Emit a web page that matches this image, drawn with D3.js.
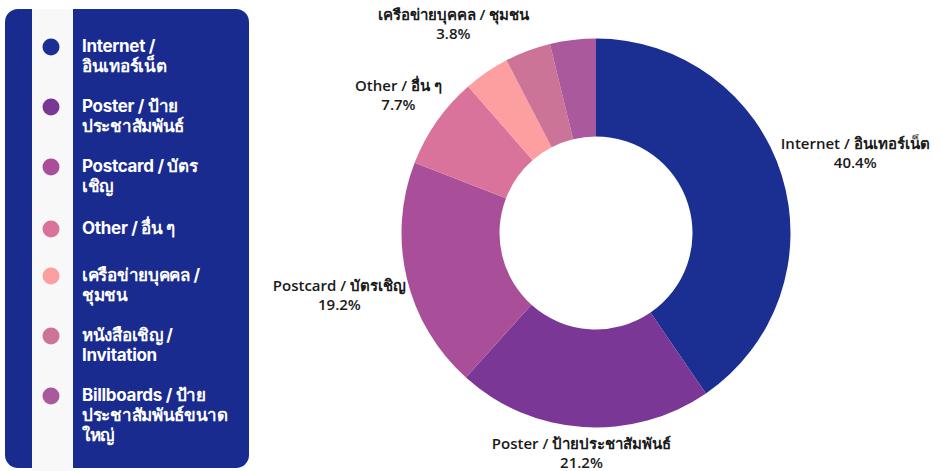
<!DOCTYPE html>
<html>
<head>
<meta charset="utf-8">
<script src="https://cdn.jsdelivr.net/npm/d3@7/dist/d3.min.js"></script>
<style>
  html, body { margin: 0; padding: 0; background: #ffffff; }
  svg { display: block; }
</style>
</head>
<body>
<svg id="chart" width="941" height="471"></svg>
<script>
// Channel shares (percent), drawn clockwise from 12 o'clock
const categories = ["Internet", "Poster", "Postcard", "Other", "Network", "Invitation", "Billboards"];
const shares = [40.4, 21.2, 19.2, 7.7, 3.8, 3.8, 3.8];
const sliceColors = ["#1b2e91", "#7a3796", "#a94f9a", "#d9739b", "#fd9ea1", "#cc7497", "#aa599d"];

// Outside labels on the ring (null = not labelled)
const ringLabels = [
  "Internet / อินเทอร์เน็ต",
  "Poster / ป้ายประชาสัมพันธ์",
  "Postcard / บัตรเชิญ",
  "Other / อื่น ๆ",
  "เครือข่ายบุคคล / ชุมชน",
  null,
  null
];

// Legend entries, one array of wrapped lines per category
const legendLines = [
  ["Internet /", "อินเทอร์เน็ต"],
  ["Poster / ป้าย", "ประชาสัมพันธ์"],
  ["Postcard / บัตร", "เชิญ"],
  ["Other / อื่น ๆ"],
  ["เครือข่ายบุคคล /", "ชุมชน"],
  ["หนังสือเชิญ /", "Invitation"],
  ["Billboards / ป้าย", "ประชาสัมพันธ์ขนาด", "ใหญ่"]
];

const svg = d3.select("#chart");
const W = 941, H = 471;

// ---------- legend panel ----------
const panel = svg.append("g");
panel.append("rect")
  .attr("x", 5).attr("y", 9)
  .attr("width", 244).attr("height", 459)
  .attr("rx", 13).attr("ry", 13)
  .attr("fill", "#1a2b8f");
panel.append("rect")
  .attr("x", 32).attr("y", 9)
  .attr("width", 41).attr("height", H - 9)
  .attr("fill", "#f8f8f9");

const legendFont = "Inter, 'Noto Sans', sans-serif";
const legendLineH = 20;
let ly = 47;
legendLines.forEach((lines, i) => {
  // single-line rows sit in a slightly taller slot, content centred in it
  const single = lines.length === 1;
  const rowY = ly + (single ? 2 : 0);
  const item = panel.append("g").attr("transform", `translate(0,${rowY})`);
  item.append("circle")
    .attr("cx", 51).attr("cy", 0).attr("r", 8.5)
    .attr("fill", sliceColors[i]);
  const t = item.append("text")
    .attr("x", 82).attr("y", 5)
    .attr("fill", "#ffffff")
    .style("font-family", legendFont)
    .style("font-size", "17px")
    .style("font-weight", 700)
    .style("letter-spacing", "-0.3px");
  lines.forEach((ln, j) => {
    t.append("tspan").attr("x", 82).attr("dy", j === 0 ? 0 : legendLineH).text(ln);
  });
  ly += single ? 49 : lines.length * legendLineH + 20;
});

// ---------- doughnut ----------
const cx = 596, cy = 233;
const outerR = 194.5, innerR = 96.5;

const pie = d3.pie().sort(null).value(d => d.value);
const arcs = pie(categories.map((c, i) => ({ key: c, value: shares[i], label: ringLabels[i], color: sliceColors[i] })));
const arc = d3.arc().innerRadius(innerR).outerRadius(outerR);

const ring = svg.append("g").attr("transform", `translate(${cx},${cy})`);
ring.selectAll("path.slice")
  .data(arcs)
  .join("path")
  .attr("class", "slice")
  .attr("d", arc)
  .attr("fill", d => d.data.color);

// labels pushed outward along each slice's mid-angle until the text box clears the ring
const labelFont = "'Open Sans', 'Noto Sans', sans-serif";
const labelGap = outerR;
const lineH = 19;
const labelled = arcs.filter(d => d.data.label);
const lg = ring.selectAll("g.lbl")
  .data(labelled)
  .join("g")
  .attr("class", "lbl");

const texts = lg.append("text")
  .attr("text-anchor", "middle")
  .attr("fill", "#1a1a1a")
  .style("font-family", labelFont)
  .style("font-size", "15px")
  .style("font-weight", 600);
texts.append("tspan").attr("x", 0).attr("dy", 0).text(d => d.data.label);
texts.append("tspan").attr("x", 0).attr("dy", lineH).text(d => d3.format(".1f")(d.data.value) + "%");

lg.each(function(d) {
  const g = d3.select(this);
  const box = g.select("text").node().getBBox();
  const mid = (d.startAngle + d.endAngle) / 2;
  const sx = Math.sin(mid), sy = -Math.cos(mid);
  const halfW = box.width / 2, halfH = box.height / 2;
  const dist = labelGap + Math.abs(sx) * halfW + Math.abs(sy) * halfH;
  const bx = sx * dist, by = sy * dist;
  // centre the text block on (bx, by)
  const offY = box.y + box.height / 2;
  g.attr("transform", `translate(${bx},${by - offY})`);
});
</script>
</body>
</html>
